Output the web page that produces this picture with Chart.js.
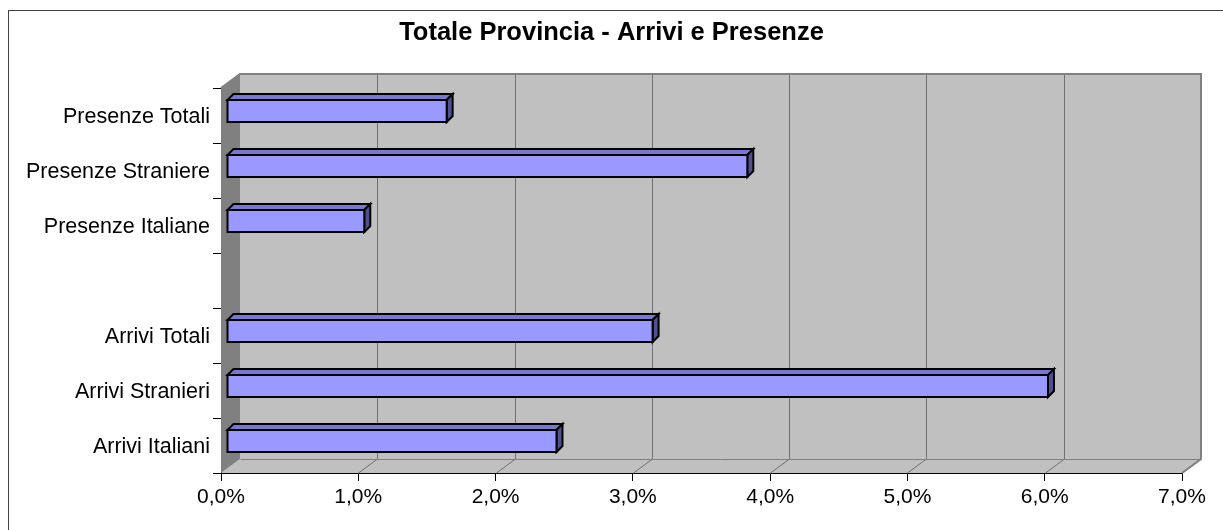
<!DOCTYPE html>
<html>
<head>
<meta charset="utf-8">
<script src="https://cdn.jsdelivr.net/npm/chart.js@4.4.0/dist/chart.umd.min.js"></script>
<style>
  html, body { margin: 0; padding: 0; background: #fff; }
  #wrap { width: 1223px; height: 530px; }
</style>
</head>
<body>
<div id="wrap"><canvas id="chartArrivi"></canvas></div>
<script>
// Dati
const categorie = ["Presenze Totali", "Presenze Straniere", "Presenze Italiane", "", "Arrivi Totali", "Arrivi Stranieri", "Arrivi Italiani"];
const valori = [1.60, 3.79, 1.00, null, 3.10, 5.98, 2.40]; // in %
const tickMax = 7;
const titolo = "Totale Provincia - Arrivi e Presenze";

// profondità 3D (pareti) e posizione barre
const DEPTH_X = 19, DEPTH_Y = -14;
const BAR_SHIFT_X = 6, BAR_SHIFT_Y = -4.5;
const BAR_DEPTH_X = 6, BAR_DEPTH_Y = -6;

const FONT = "'Liberation Sans', Arial, sans-serif";

/**
 * Pareti, griglia, titolo e barre in stile Excel 3D
 */
const walls3d = {
    id: "walls3d",
    beforeDraw(chart) {
        const ctx = chart.ctx;
        ctx.save();
        ctx.fillStyle = "#fff";
        ctx.fillRect(0, 0, chart.width, chart.height);
        ctx.strokeStyle = "#404040";
        ctx.lineWidth = 1;
        ctx.strokeRect(8.5, 10.5, 1400, 700);
        // titolo
        ctx.fillStyle = "#000";
        ctx.font = "bold 25.5px " + FONT;
        ctx.textAlign = "center";
        ctx.textBaseline = "middle";
        ctx.fillText(titolo, chart.width / 2, 33);
        ctx.restore();
    },
    beforeDatasetsDraw(chart) {
        const { ctx, chartArea: a, scales } = chart;
        const x = scales.x;
        const L = a.left, R = a.right, T = a.top, B = a.bottom;
        ctx.save();
        // parete di fondo
        ctx.fillStyle = "#c0c0c0";
        ctx.fillRect(L + DEPTH_X, T + DEPTH_Y, R - L, B - T);
        // pavimento
        ctx.beginPath();
        ctx.moveTo(L, B);
        ctx.lineTo(R, B);
        ctx.lineTo(R + DEPTH_X, B + DEPTH_Y);
        ctx.lineTo(L + DEPTH_X, B + DEPTH_Y);
        ctx.closePath();
        ctx.fill();
        // parete sinistra
        ctx.fillStyle = "#808080";
        ctx.beginPath();
        ctx.moveTo(L, T);
        ctx.lineTo(L + DEPTH_X, T + DEPTH_Y);
        ctx.lineTo(L + DEPTH_X, B + DEPTH_Y);
        ctx.lineTo(L, B);
        ctx.closePath();
        ctx.fill();

        // griglia verticale
        ctx.strokeStyle = "#707070";
        ctx.lineWidth = 1;
        for (let v = 1; v <= tickMax; v++) {
            const px = Math.round(x.getPixelForValue(v)) + 0.5;
            ctx.beginPath();
            ctx.moveTo(px + DEPTH_X, T + DEPTH_Y);
            ctx.lineTo(px + DEPTH_X, B + DEPTH_Y);
            ctx.lineTo(px, B);
            ctx.stroke();
        }
        // bordi pareti
        ctx.strokeStyle = "#808080";
        ctx.lineWidth = 2;
        ctx.beginPath();
        ctx.moveTo(L, T);
        ctx.lineTo(L + DEPTH_X, T + DEPTH_Y);
        ctx.lineTo(R + DEPTH_X, T + DEPTH_Y);
        ctx.lineTo(R + DEPTH_X, B + DEPTH_Y);
        ctx.lineTo(R, B);
        ctx.stroke();
        ctx.lineWidth = 1;
        ctx.beginPath();
        ctx.moveTo(L + DEPTH_X + 0.5, B + DEPTH_Y + 0.5);
        ctx.lineTo(R + DEPTH_X, B + DEPTH_Y + 0.5);
        ctx.stroke();
        ctx.restore();
    },
    afterDatasetsDraw(chart) {
        const ctx = chart.ctx;
        const meta = chart.getDatasetMeta(0);
        ctx.save();
        ctx.lineJoin = "miter";
        meta.data.forEach((bar, i) => {
            if (valori[i] == null) return;
            const p = bar.getProps(["x", "y", "base", "height"], true);
            const x0 = p.base + BAR_SHIFT_X;
            const x1 = p.x + BAR_SHIFT_X;
            const y0 = p.y - p.height / 2 + BAR_SHIFT_Y;
            const y1 = p.y + p.height / 2 + BAR_SHIFT_Y;
            ctx.lineWidth = 2;
            ctx.strokeStyle = "#000";
            // faccia superiore
            ctx.fillStyle = "#7878d2";
            ctx.beginPath();
            ctx.moveTo(x0, y0);
            ctx.lineTo(x0 + BAR_DEPTH_X, y0 + BAR_DEPTH_Y);
            ctx.lineTo(x1 + BAR_DEPTH_X, y0 + BAR_DEPTH_Y);
            ctx.lineTo(x1, y0);
            ctx.closePath();
            ctx.fill();
            ctx.stroke();
            // faccia laterale
            ctx.fillStyle = "#50508f";
            ctx.beginPath();
            ctx.moveTo(x1, y0);
            ctx.lineTo(x1 + BAR_DEPTH_X, y0 + BAR_DEPTH_Y);
            ctx.lineTo(x1 + BAR_DEPTH_X, y1 + BAR_DEPTH_Y);
            ctx.lineTo(x1, y1);
            ctx.closePath();
            ctx.fill();
            ctx.stroke();
            // faccia frontale
            ctx.fillStyle = "#9999ff";
            ctx.fillRect(x0, y0, x1 - x0, y1 - y0);
            ctx.strokeRect(x0, y0, x1 - x0, y1 - y0);
        });
        ctx.restore();
    },
};

const ctx = document.getElementById("chartArrivi").getContext("2d");

new Chart(ctx, {
    type: "bar",
    data: {
        labels: categorie,
        datasets: [{
            data: valori,
            backgroundColor: "rgba(0,0,0,0)",
            borderWidth: 0,
            categoryPercentage: 1,
            barPercentage: 0.4,
        }, ],
    },
    options: {
        indexAxis: "y",
        responsive: true,
        maintainAspectRatio: false,
        animation: false,
        layout: { padding: { left: 0, right: 41, top: 88, bottom: 0 } },
        plugins: {
            legend: { display: false },
            tooltip: { enabled: false },
            title: { display: false },
        },
        scales: {
            x: {
                min: 0,
                max: tickMax,
                ticks: {
                    stepSize: 1,
                    color: "#000",
                    padding: 4,
                    font: { family: FONT, size: 21 },
                    callback: (v) => v.toFixed(1).replace(".", ",") + "%",
                },
                grid: { drawOnChartArea: false, tickLength: 8, color: "#000", lineWidth: 1 },
                border: { display: true, color: "#000", width: 1 },
                afterFit: (s) => { s.height = 57; },
            },
            y: {
                ticks: {
                    color: "#000",
                    padding: 3,
                    labelOffset: 2,
                    font: { family: FONT, size: 21.5 },
                },
                grid: { drawOnChartArea: false, tickLength: 8, color: "#000", lineWidth: 1, offset: true },
                border: { display: true, color: "#000", width: 1 },
                afterFit: (s) => { s.width = 221; },
            },
        },
    },
    plugins: [walls3d],
});
</script>
</body>
</html>
